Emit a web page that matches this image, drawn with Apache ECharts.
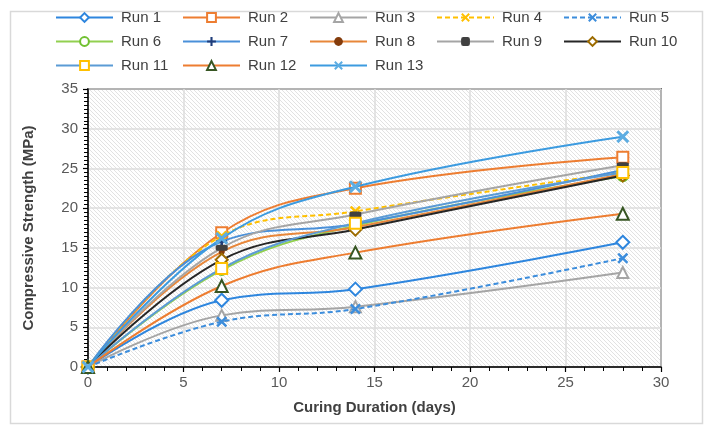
<!DOCTYPE html>
<html>
<head>
<meta charset="utf-8">
<script src="https://cdn.jsdelivr.net/npm/echarts@6/dist/echarts.min.js"></script>
<style>html,body{margin:0;padding:0;background:#fff;}#c{width:706px;height:436px;}</style>
</head>
<body>
<div id="c"></div>
<script>
// ---- data ----
const days = [0, 7, 14, 28];
const runNames = ['Run 1','Run 2','Run 3','Run 4','Run 5','Run 6','Run 7','Run 8','Run 9','Run 10','Run 11','Run 12','Run 13'];
const run1  = [0, 8.4, 9.8, 15.7];
const run2  = [0, 16.9, 22.5, 26.4];
const run3  = [0, 6.5, 7.6, 11.9];
const run4  = [0, 16.5, 19.6, 24.5];
const run5  = [0, 5.7, 7.3, 13.7];
const run6  = [0, 12.2, 17.8, 24.0];
const run7  = [0, 15.8, 18.0, 24.8];
const run8  = [0, 14.5, 17.6, 24.3];
const run9  = [0, 15.0, 19.2, 25.4];
const run10 = [0, 13.5, 17.3, 24.1];
const run11 = [0, 12.4, 18.1, 24.5];
const run12 = [0, 10.2, 14.4, 19.3];
const run13 = [0, 16.2, 22.7, 29.0];
const runValues = [run1, run2, run3, run4, run5, run6, run7, run8, run9, run10, run11, run12, run13];
const xTicks = [0, 5, 10, 15, 20, 25, 30];
const yTicks = [0, 5, 10, 15, 20, 25, 30, 35];

// ---- styles ----
const X_PATH = 'path://M0,1.6 L1.6,0 L5,3.4 L8.4,0 L10,1.6 L6.6,5 L10,8.4 L8.4,10 L5,6.6 L1.6,10 L0,8.4 L3.4,5 Z';
const PLUS_PATH = 'path://M3.8,0 H6.2 V3.8 H10 V6.2 H6.2 V10 H3.8 V6.2 H0 V3.8 H3.8 Z';
const styles = [
  {line:'#2E86DE', mark:'#2E86DE', sym:'emptyDiamond', size:13, bw:2.2},
  {line:'#ED7D31', mark:'#ED7D31', sym:'emptyRect', size:11, bw:2.4},
  {line:'#A5A5A5', mark:'#A5A5A5', sym:'emptyTriangle', size:11, bw:2.2},
  {line:'#FFC000', mark:'#FFC000', sym:X_PATH, size:11, dash:true},
  {line:'#3C8DDC', mark:'#3C8DDC', sym:X_PATH, size:11, dash:true},
  {line:'#92D050', mark:'#70C030', sym:'emptyCircle', size:10, bw:2.4},
  {line:'#4A90D9', mark:'#1F3D7A', sym:PLUS_PATH, size:11},
  {line:'#E8873A', mark:'#843C0C', sym:'circle', size:6},
  {line:'#A5A5A5', mark:'#404040', sym:'roundRect', size:[12,6]},
  {line:'#262626', mark:'#9C6B00', sym:'emptyDiamond', size:12, bw:2.4},
  {line:'#5B9BD5', mark:'#FFC000', sym:'emptyRect', size:11, bw:3},
  {line:'#ED7D31', mark:'#375623', sym:'emptyTriangle', size:12, bw:2.6},
  {line:'#3C9BE0', mark:'#5DADE2', sym:X_PATH, size:13}
];

// hatch pattern
const hc = document.createElement('canvas');
hc.width = 4; hc.height = 4;
const hx = hc.getContext('2d');
hx.fillStyle = '#ffffff'; hx.fillRect(0,0,4,4);
hx.strokeStyle = '#e2e2e2'; hx.lineWidth = 1;
hx.beginPath();
hx.moveTo(-1,-1); hx.lineTo(5,5);
hx.moveTo(-1,3); hx.lineTo(1,5);
hx.moveTo(3,-1); hx.lineTo(5,1);
hx.stroke();

const FONT = "'Liberation Sans Narrow','Liberation Sans',sans-serif";

const series = runNames.map((name, i) => {
  const s = styles[i];
  return {
    name: name,
    type: 'line',
    smooth: 0.4,
    data: days.map((d, j) => [d, runValues[i][j]]),
    symbol: s.sym,
    symbolSize: s.size,
    showAllSymbol: true,
    lineStyle: {color: s.line, width: 2, type: s.dash ? [5,3] : 'solid'},
    itemStyle: {color: s.mark, borderWidth: s.bw || 1},
    z: 2 + i
  };
});

const colX = [55, 182, 309, 436, 563];
const rowY = [10, 34, 58];
const legends = runNames.map((name, i) => ({
  data: [name],
  left: colX[i % 5],
  top: rowY[Math.floor(i / 5)],
  padding: 0,
  itemWidth: 57,
  itemHeight: 11,
  itemGap: 0,
  textStyle: {fontSize: 15, color: '#404040', fontFamily: FONT, padding: [0,0,0,3]}
}));

const chart = echarts.init(document.getElementById('c'), null, {renderer: 'canvas'});
chart.setOption({
  animation: false,
  backgroundColor: '#fff',
  graphic: [{
    type: 'rect', left: 8, top: 9, z: -10, silent: true,
    shape: {width: 692, height: 412},
    style: {fill: 'none', stroke: '#d9d9d9', lineWidth: 1.5}
  }],
  legend: legends,
  grid: {
    left: 88, right: 45, top: 89, bottom: 69,
    show: true,
    backgroundColor: {image: hc, repeat: 'repeat'},
    borderColor: '#000', borderWidth: 1.5
  },
  xAxis: {
    type: 'value', min: 0, max: 30, interval: 5,
    name: 'Curing Duration (days)', nameLocation: 'middle', nameGap: 33,
    nameTextStyle: {fontSize: 15, fontWeight: 'bold', color: '#404040', fontFamily: FONT},
    axisLine: {show: true, lineStyle: {color: '#000', width: 1.5}},
    axisTick: {show: true, inside: false, length: 5, lineStyle: {color: '#000', width: 1.2}},
    minorTick: {show: true, splitNumber: 5, length: 4, lineStyle: {color: '#000', width: 1}},
    axisLabel: {fontSize: 15, color: '#595959', fontFamily: FONT, margin: 8,
      formatter: v => xTicks.indexOf(v) >= 0 ? String(v) : ''},
    splitLine: {show: true, lineStyle: {color: '#dcdcdc', width: 1.5}}
  },
  yAxis: {
    type: 'value', min: 0, max: 35, interval: 5,
    name: 'Compressive Strength (MPa)', nameLocation: 'middle', nameGap: 52,
    nameTextStyle: {fontSize: 15, fontWeight: 'bold', color: '#404040', fontFamily: FONT},
    axisLine: {show: true, lineStyle: {color: '#000', width: 1.5}},
    axisTick: {show: true, inside: false, length: 5, lineStyle: {color: '#000', width: 1.2}},
    minorTick: {show: true, splitNumber: 10, length: 4, lineStyle: {color: '#000', width: 1}},
    axisLabel: {fontSize: 15, color: '#595959', fontFamily: FONT, margin: 10,
      formatter: v => yTicks.indexOf(v) >= 0 ? String(v) : ''},
    splitLine: {show: true, lineStyle: {color: '#dcdcdc', width: 1.5}}
  },
  series: series
});
</script>
</body>
</html>
